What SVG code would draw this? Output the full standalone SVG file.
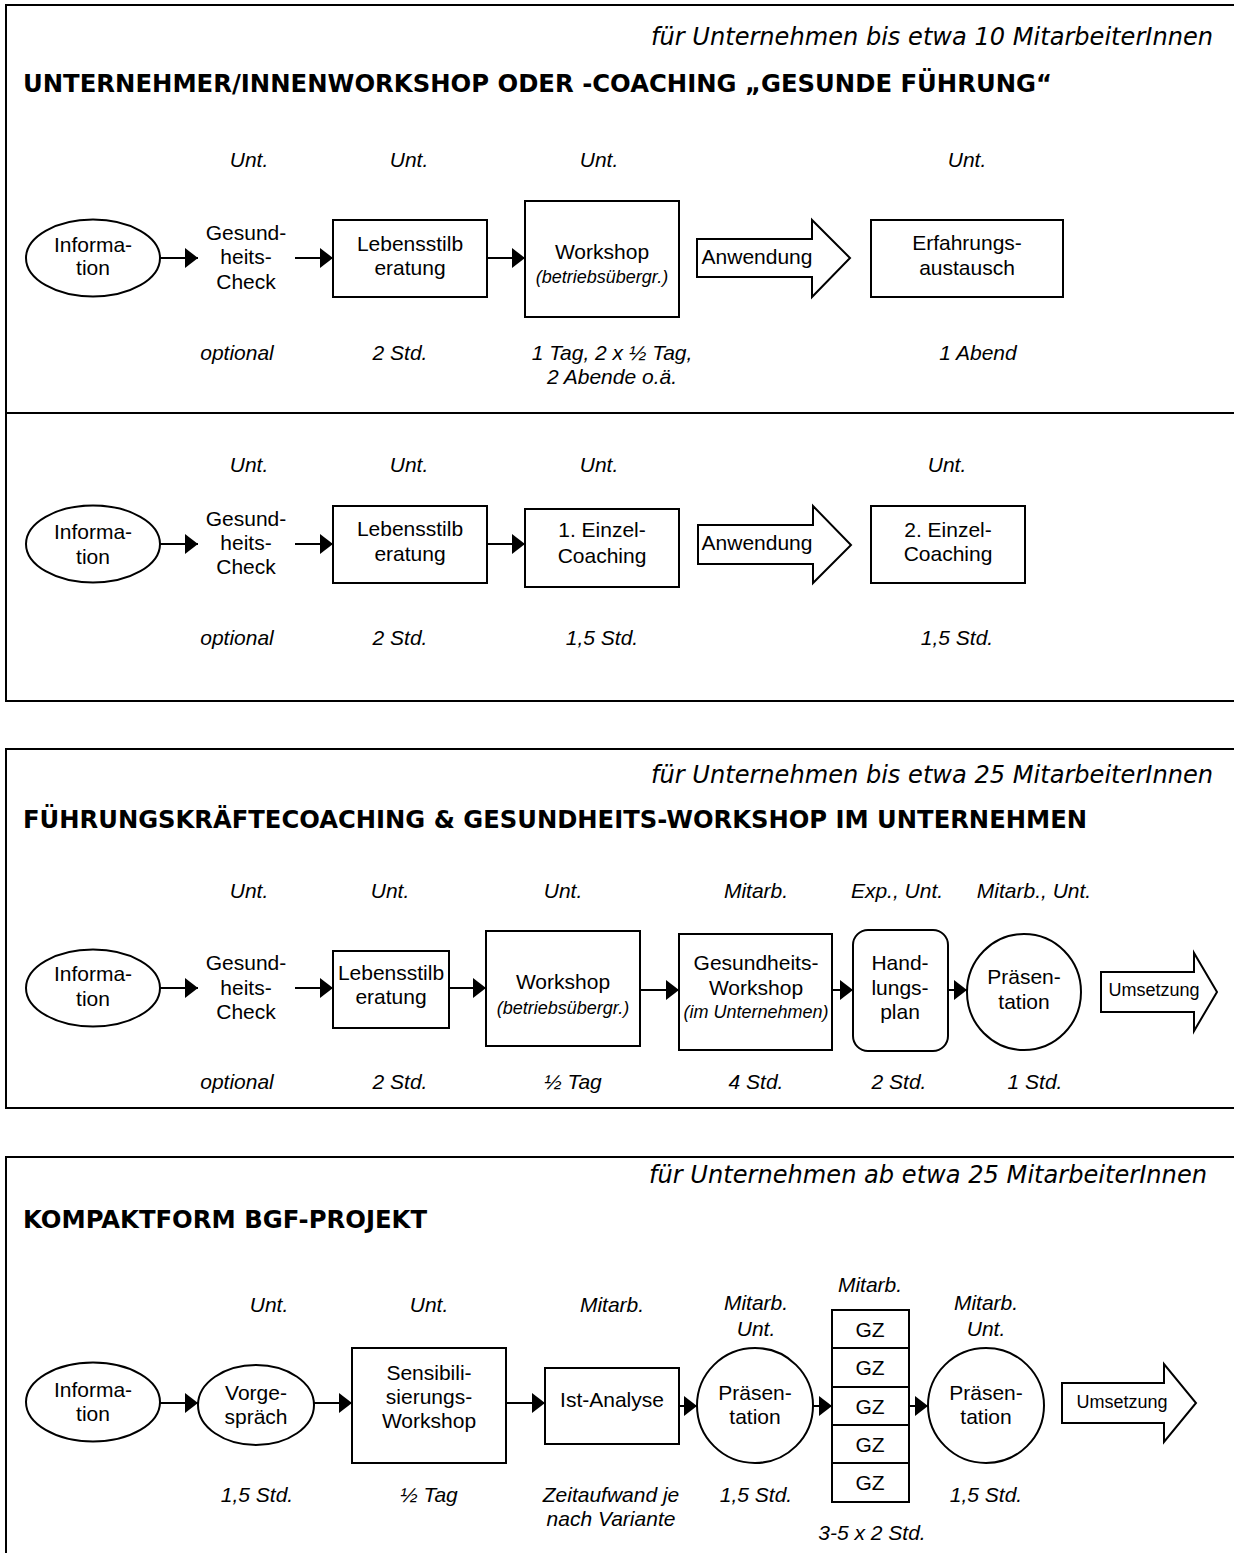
<svg xmlns="http://www.w3.org/2000/svg" width="1234" height="1553" viewBox="0 0 1234 1553">
<style>
.bg{fill:#fff}
.frame{fill:none;stroke:#000;stroke-width:2}
.box{fill:#fff;stroke:#000;stroke-width:2}
.t{font-family:"Liberation Sans",Arial,sans-serif;font-size:21px;fill:#000;text-anchor:middle}
.i{font-style:italic}
.s{font-size:18px}
.h{font-family:"DejaVu Sans",Verdana,sans-serif;font-weight:bold;font-size:25px;fill:#000}
.sub{font-family:"DejaVu Sans",Verdana,sans-serif;font-style:italic;font-size:24px;fill:#000}
.c{fill:none;stroke:#000;stroke-width:2;marker-end:url(#ah)}
</style>
<defs>
<marker id="ah" markerWidth="13" markerHeight="20" refX="13" refY="10" orient="auto" markerUnits="userSpaceOnUse">
<path d="M0,0 L13,10 L0,20 z" fill="#000"/>
</marker>
</defs>
<rect class="bg" x="0" y="0" width="1234" height="1553"/>

<!-- frames -->
<g id="frames">
<rect class="frame" x="6" y="5" width="1240" height="696"/>
<line class="frame" x1="6" y1="413" x2="1240" y2="413"/>
<rect class="frame" x="6" y="749" width="1240" height="359"/>
<rect class="frame" x="6" y="1157" width="1240" height="500"/>
</g>

<!-- section 1 -->
<g id="s1-head">
<text class="sub" x="651" y="45" textLength="562" lengthAdjust="spacingAndGlyphs">für Unternehmen bis etwa 10 MitarbeiterInnen</text>
<text class="h" x="23" y="92" textLength="1029" lengthAdjust="spacingAndGlyphs">UNTERNEHMER/INNENWORKSHOP ODER -COACHING „GESUNDE FÜHRUNG“</text>
</g>
<g id="s1-labels" class="t i">
<text x="249" y="167">Unt.</text>
<text x="409" y="167">Unt.</text>
<text x="599" y="167">Unt.</text>
<text x="967" y="167">Unt.</text>
<text x="237" y="360">optional</text>
<text x="400" y="360">2 Std.</text>
<text x="612" y="360">1 Tag, 2 x ½ Tag,</text>
<text x="612" y="384">2 Abende o.ä.</text>
<text x="978" y="360">1 Abend</text>
</g>
<g id="s1-info"><ellipse class="box" cx="93" cy="258" rx="67" ry="38.5"/><text class="t" x="93" y="252">Informa-</text><text class="t" x="93" y="275">tion</text></g>
<g id="s1-check"><text class="t" x="246" y="240">Gesund-</text><text class="t" x="246" y="264">heits-</text><text class="t" x="246" y="289">Check</text></g>
<g id="s1-leben"><rect class="box" x="333" y="220" width="154" height="77"/><text class="t" x="410" y="251">Lebensstilb</text><text class="t" x="410" y="275">eratung</text></g>
<g id="s1-workshop"><rect class="box" x="525" y="201" width="154" height="116"/><text class="t" x="602" y="259">Workshop</text><text class="t i s" x="602" y="283">(betriebsübergr.)</text></g>
<g id="s1-anwendung"><polygon class="box" points="697,239 812,239 812,220 850,258 812,297 812,277 697,277"/><text class="t" x="757" y="264">Anwendung</text></g>
<g id="s1-erfahrung"><rect class="box" x="871" y="220" width="192" height="77"/><text class="t" x="967" y="250">Erfahrungs-</text><text class="t" x="967" y="275">austausch</text></g>

<!-- section 1b -->
<g id="s1b-labels" class="t i">
<text x="249" y="472">Unt.</text>
<text x="409" y="472">Unt.</text>
<text x="599" y="472">Unt.</text>
<text x="947" y="472">Unt.</text>
<text x="237" y="645">optional</text>
<text x="400" y="645">2 Std.</text>
<text x="602" y="645">1,5 Std.</text>
<text x="957" y="645">1,5 Std.</text>
</g>
<g id="s1b-info"><ellipse class="box" cx="93" cy="544" rx="67" ry="38.5"/><text class="t" x="93" y="539">Informa-</text><text class="t" x="93" y="564">tion</text></g>
<g id="s1b-check"><text class="t" x="246" y="526">Gesund-</text><text class="t" x="246" y="550">heits-</text><text class="t" x="246" y="574">Check</text></g>
<g id="s1b-leben"><rect class="box" x="333" y="506" width="154" height="77"/><text class="t" x="410" y="536">Lebensstilb</text><text class="t" x="410" y="561">eratung</text></g>
<g id="s1b-coach1"><rect class="box" x="525" y="509" width="154" height="78"/><text class="t" x="602" y="537">1. Einzel-</text><text class="t" x="602" y="563">Coaching</text></g>
<g id="s1b-anwendung"><polygon class="box" points="698,525 813,525 813,506 851,545 813,583 813,564 698,564"/><text class="t" x="757" y="550">Anwendung</text></g>
<g id="s1b-coach2"><rect class="box" x="871" y="506" width="154" height="77"/><text class="t" x="948" y="537">2. Einzel-</text><text class="t" x="948" y="561">Coaching</text></g>

<!-- section 2 -->
<g id="s2-head">
<text class="sub" x="651" y="783" textLength="562" lengthAdjust="spacingAndGlyphs">für Unternehmen bis etwa 25 MitarbeiterInnen</text>
<text class="h" x="23" y="828" textLength="1064" lengthAdjust="spacingAndGlyphs">FÜHRUNGSKRÄFTECOACHING &amp; GESUNDHEITS-WORKSHOP IM UNTERNEHMEN</text>
</g>
<g id="s2-labels" class="t i">
<text x="249" y="898">Unt.</text>
<text x="390" y="898">Unt.</text>
<text x="563" y="898">Unt.</text>
<text x="756" y="898">Mitarb.</text>
<text x="897" y="898">Exp., Unt.</text>
<text x="1034" y="898">Mitarb., Unt.</text>
<text x="237" y="1089">optional</text>
<text x="400" y="1089">2 Std.</text>
<text x="573" y="1089">½ Tag</text>
<text x="756" y="1089">4 Std.</text>
<text x="899" y="1089">2 Std.</text>
<text x="1035" y="1089">1 Std.</text>
</g>
<g id="s2-info"><ellipse class="box" cx="93" cy="988" rx="67" ry="38.5"/><text class="t" x="93" y="981">Informa-</text><text class="t" x="93" y="1006">tion</text></g>
<g id="s2-check"><text class="t" x="246" y="970">Gesund-</text><text class="t" x="246" y="995">heits-</text><text class="t" x="246" y="1019">Check</text></g>
<g id="s2-leben"><rect class="box" x="333" y="951" width="116" height="77"/><text class="t" x="391" y="980">Lebensstilb</text><text class="t" x="391" y="1004">eratung</text></g>
<g id="s2-workshop"><rect class="box" x="486" y="931" width="154" height="115"/><text class="t" x="563" y="989">Workshop</text><text class="t i s" x="563" y="1014">(betriebsübergr.)</text></g>
<g id="s2-gw"><rect class="box" x="679" y="934" width="153" height="116"/><text class="t" x="756" y="970">Gesundheits-</text><text class="t" x="756" y="995">Workshop</text><text class="t i s" x="756" y="1018">(im Unternehmen)</text></g>
<g id="s2-plan"><rect class="box" x="853" y="930" width="95" height="121" rx="15" ry="15"/><text class="t" x="900" y="970">Hand-</text><text class="t" x="900" y="995">lungs-</text><text class="t" x="900" y="1019">plan</text></g>
<g id="s2-praes"><ellipse class="box" cx="1024" cy="992" rx="57" ry="58"/><text class="t" x="1024" y="984">Präsen-</text><text class="t" x="1024" y="1009">tation</text></g>
<g id="s2-umsetzung"><polygon class="box" points="1101,972 1194,972 1194,953 1217,992 1194,1031 1194,1012 1101,1012"/><text class="t s" x="1154" y="996">Umsetzung</text></g>

<!-- section 3 -->
<g id="s3-head">
<text class="sub" x="649" y="1183" textLength="558" lengthAdjust="spacingAndGlyphs">für Unternehmen ab etwa 25 MitarbeiterInnen</text>
<text class="h" x="23" y="1228" textLength="404" lengthAdjust="spacingAndGlyphs">KOMPAKTFORM BGF-PROJEKT</text>
</g>
<g id="s3-labels" class="t i">
<text x="269" y="1312">Unt.</text>
<text x="429" y="1312">Unt.</text>
<text x="612" y="1312">Mitarb.</text>
<text x="756" y="1310">Mitarb.</text>
<text x="756" y="1336">Unt.</text>
<text x="870" y="1292">Mitarb.</text>
<text x="986" y="1310">Mitarb.</text>
<text x="986" y="1336">Unt.</text>
<text x="257" y="1502">1,5 Std.</text>
<text x="429" y="1502">½ Tag</text>
<text x="611" y="1502">Zeitaufwand je</text>
<text x="611" y="1526">nach Variante</text>
<text x="756" y="1502">1,5 Std.</text>
<text x="872" y="1540">3-5 x 2 Std.</text>
<text x="986" y="1502">1,5 Std.</text>
</g>
<g id="s3-info"><ellipse class="box" cx="93" cy="1402" rx="67" ry="39.5"/><text class="t" x="93" y="1397">Informa-</text><text class="t" x="93" y="1421">tion</text></g>
<g id="s3-vorgespraech"><ellipse class="box" cx="256" cy="1405" rx="58" ry="40"/><text class="t" x="256" y="1400">Vorge-</text><text class="t" x="256" y="1424">spräch</text></g>
<g id="s3-sensi"><rect class="box" x="352" y="1348" width="154" height="115"/><text class="t" x="429" y="1380">Sensibili-</text><text class="t" x="429" y="1404">sierungs-</text><text class="t" x="429" y="1428">Workshop</text></g>
<g id="s3-ist"><rect class="box" x="545" y="1368" width="134" height="76"/><text class="t" x="612" y="1407">Ist-Analyse</text></g>
<g id="s3-praes1"><ellipse class="box" cx="755" cy="1405.5" rx="58" ry="57.5"/><text class="t" x="755" y="1400">Präsen-</text><text class="t" x="755" y="1424">tation</text></g>
<g id="s3-gz">
<rect class="box" x="832" y="1310" width="77" height="192"/>
<line class="frame" x1="832" y1="1348" x2="909" y2="1348"/>
<line class="frame" x1="832" y1="1387" x2="909" y2="1387"/>
<line class="frame" x1="832" y1="1425" x2="909" y2="1425"/>
<line class="frame" x1="832" y1="1463" x2="909" y2="1463"/>
<text class="t" x="870" y="1337">GZ</text>
<text class="t" x="870" y="1375">GZ</text>
<text class="t" x="870" y="1414">GZ</text>
<text class="t" x="870" y="1452">GZ</text>
<text class="t" x="870" y="1490">GZ</text>
</g>
<g id="s3-praes2"><ellipse class="box" cx="986" cy="1405.5" rx="58" ry="57.5"/><text class="t" x="986" y="1400">Präsen-</text><text class="t" x="986" y="1424">tation</text></g>
<g id="s3-umsetzung"><polygon class="box" points="1062,1383 1164,1383 1164,1364 1196,1403 1164,1442 1164,1423 1062,1423"/><text class="t s" x="1122" y="1408">Umsetzung</text></g>

<!-- connectors -->
<g id="connectors">
<line class="c" x1="160" y1="258" x2="198" y2="258"/>
<line class="c" x1="295" y1="258" x2="333" y2="258"/>
<line class="c" x1="487" y1="258" x2="525" y2="258"/>
<line class="c" x1="160" y1="544" x2="198" y2="544"/>
<line class="c" x1="295" y1="544" x2="333" y2="544"/>
<line class="c" x1="487" y1="544" x2="525" y2="544"/>
<line class="c" x1="160" y1="988" x2="198" y2="988"/>
<line class="c" x1="295" y1="988" x2="333" y2="988"/>
<line class="c" x1="449" y1="988" x2="486" y2="988"/>
<line class="c" x1="640" y1="990" x2="679" y2="990"/>
<line class="c" x1="832" y1="990" x2="853" y2="990"/>
<line class="c" x1="948" y1="990" x2="967" y2="990"/>
<line class="c" x1="160" y1="1403" x2="198" y2="1403"/>
<line class="c" x1="314" y1="1403" x2="352" y2="1403"/>
<line class="c" x1="506" y1="1403" x2="545" y2="1403"/>
<line class="c" x1="679" y1="1406" x2="697" y2="1406"/>
<line class="c" x1="813" y1="1406" x2="832" y2="1406"/>
<line class="c" x1="909" y1="1406" x2="928" y2="1406"/>
</g>
</svg>
